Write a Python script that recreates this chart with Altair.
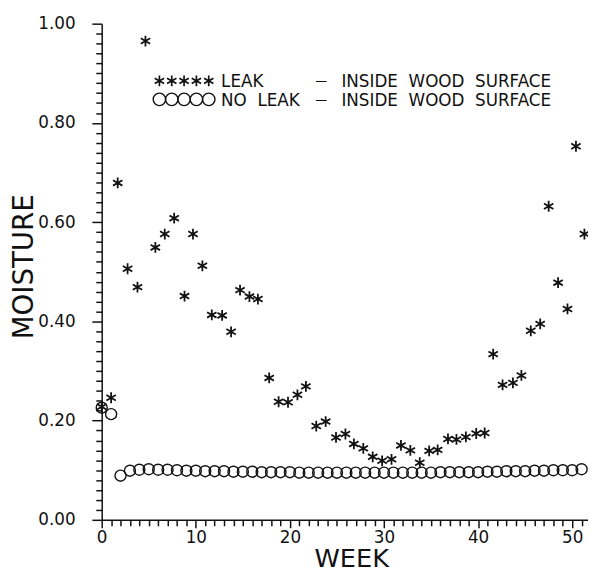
import altair as alt
import pandas as pd

# ---------------- data ----------------
leak_week = [0.0, 1.0, 1.7, 2.75, 3.8, 4.65, 5.7, 6.7, 7.7, 8.8, 9.7, 10.7, 11.7,
             12.8, 13.75, 14.7, 15.7, 16.6, 17.8, 18.8, 19.8, 20.8, 21.7, 22.8,
             23.8, 24.9, 25.9, 26.8, 27.8, 28.8, 29.8, 30.8, 31.8, 32.8, 33.8,
             34.8, 35.7, 36.8, 37.7, 38.7, 39.8, 40.7, 41.6, 42.6, 43.7, 44.6,
             45.6, 46.6, 47.5, 48.5, 49.5, 50.4, 51.3]
leak_moist = [0.228, 0.246, 0.679, 0.506, 0.469, 0.965, 0.549, 0.576, 0.608, 0.451,
              0.576, 0.512, 0.413, 0.412, 0.379, 0.463, 0.450, 0.445, 0.286, 0.238,
              0.237, 0.252, 0.269, 0.189, 0.198, 0.166, 0.173, 0.153, 0.144, 0.127,
              0.119, 0.122, 0.150, 0.140, 0.115, 0.139, 0.141, 0.163, 0.162, 0.167,
              0.174, 0.175, 0.334, 0.272, 0.276, 0.291, 0.381, 0.395, 0.632, 0.478,
              0.425, 0.753, 0.576]

noleak_week = list(range(0, 52))
noleak_moist = [0.226, 0.213, 0.089, 0.099, 0.101, 0.102, 0.101, 0.101, 0.100, 0.099,
                0.099, 0.098, 0.098, 0.098, 0.097, 0.097, 0.097, 0.096, 0.096, 0.096,
                0.096, 0.095, 0.095, 0.095, 0.095, 0.095, 0.095, 0.095, 0.095, 0.095,
                0.095, 0.095, 0.095, 0.095, 0.095, 0.095, 0.096, 0.096, 0.096, 0.096,
                0.096, 0.097, 0.097, 0.098, 0.098, 0.098, 0.099, 0.099, 0.100, 0.100,
                0.100, 0.102]

x_ticks = list(range(0, 52))                       # every week, labelled every 10
y_ticks = [round(i * 0.02, 2) for i in range(51)]  # every 0.02, labelled every 0.20

legend_rows = [
    ("LEAK", "INSIDE\u00a0\u00a0WOOD\u00a0\u00a0SURFACE"),
    ("NO\u00a0\u00a0LEAK", "INSIDE\u00a0\u00a0WOOD\u00a0\u00a0SURFACE"),
]

# ---------------- chart ----------------
FONT = "DejaVu Sans"
STAR = "M0,-1L0,1M-0.87,-0.5L0.87,0.5M-0.87,0.5L0.87,-0.5"
INK = "#111111"
PLOT_W, PLOT_H = 493, 503

leak = pd.DataFrame({"week": leak_week, "moisture": leak_moist})
noleak = pd.DataFrame({"week": noleak_week, "moisture": noleak_moist})

xs = alt.Scale(domain=[0, 51.68], nice=False, zero=False)
ys = alt.Scale(domain=[0, 1], nice=False, zero=False)

X_MAJOR = "datum.value % 10 === 0"
Y_MAJOR = "round(datum.value * 100) % 20 === 0"

common_axis = dict(grid=False, domainColor=INK, domainWidth=1.5, tickColor=INK,
                   tickWidth=1.5, labelFlush=False, labelOverlap=False)

circles = alt.Chart(noleak).mark_point(
    shape="circle", size=125, filled=False, color=INK, strokeWidth=1.4, opacity=1
).encode(
    x=alt.X("week:Q", scale=xs, axis=None),
    y=alt.Y("moisture:Q", scale=ys, axis=None),
)

stars = alt.Chart(leak).mark_point(
    shape=STAR, size=120, filled=False, color=INK, strokeWidth=1.8, opacity=1
).encode(
    x=alt.X("week:Q", scale=xs,
            axis=alt.Axis(values=x_ticks, format="d",
                          labelExpr=X_MAJOR + " ? datum.label : ''",
                          tickSize={"condition": {"test": X_MAJOR, "value": 8},
                                    "value": 6},
                          labelPadding=2,
                          labelFont=FONT, labelFontSize=17, labelColor=INK,
                          labelBaseline="top",
                          title="WEEK", titleFont=FONT, titleFontSize=26,
                          titleFontWeight="normal", titleColor=INK,
                          titleX=253, titleY=47, titleAlign="center",
                          titleBaseline="alphabetic", orient="bottom",
                          **common_axis)),
    y=alt.Y("moisture:Q", scale=ys,
            axis=alt.Axis(values=y_ticks, format=".2f",
                          labelExpr=Y_MAJOR + " ? datum.label : ''",
                          tickSize={"condition": {"test": Y_MAJOR, "value": 10},
                                    "value": 6},
                          labelPadding=17, labelFont=FONT, labelFontSize=17,
                          labelColor=INK,
                          title="MOISTURE", titleFont=FONT, titleFontSize=28,
                          titleFontWeight="normal", titleColor=INK,
                          titleX=-70, titleY=246, titleAngle=270,
                          titleAlign="center", titleBaseline="alphabetic",
                          orient="left", **common_axis)),
)

one = pd.DataFrame({"a": [0]})
legend_layers = []
row_sym_y = [58, 76.7]
row_base_y = [64.5, 83.3]
for r, (name, desc) in enumerate(legend_rows):
    for i in range(5):
        if r == 0:
            m = alt.Chart(one).mark_point(shape=STAR, size=120, filled=False,
                                          color=INK, strokeWidth=1.7, opacity=1)
        else:
            m = alt.Chart(one).mark_point(shape="circle", size=160, filled=False,
                                          color=INK, strokeWidth=1.4, opacity=1)
        legend_layers.append(m.encode(x=alt.value(58.5 + 12.5 * i),
                                      y=alt.value(row_sym_y[r])))
    legend_layers.append(
        alt.Chart(one).mark_text(text=name, align="left", baseline="alphabetic",
                                 font=FONT, fontSize=17, color=INK)
        .encode(x=alt.value(121), y=alt.value(row_base_y[r])))
    legend_layers.append(
        alt.Chart(one).mark_text(text="\u2014", align="center", baseline="alphabetic",
                                 font=FONT, fontSize=12, color=INK)
        .encode(x=alt.value(222.5), y=alt.value(row_base_y[r] - 2)))
    legend_layers.append(
        alt.Chart(one).mark_text(text=desc, align="left", baseline="alphabetic",
                                 font=FONT, fontSize=17, color=INK)
        .encode(x=alt.value(243), y=alt.value(row_base_y[r])))

chart = alt.layer(circles, stars, *legend_layers).resolve_axis(
    x="independent", y="independent"
).properties(
    width=PLOT_W, height=PLOT_H,
    autosize=alt.AutoSizeParams(type="none"),
    padding={"left": 95, "top": 12, "right": 0, "bottom": 49},
    background="white",
).configure_view(strokeWidth=0)

chart.save("out.html", embed_options={"renderer": "svg", "actions": False})
